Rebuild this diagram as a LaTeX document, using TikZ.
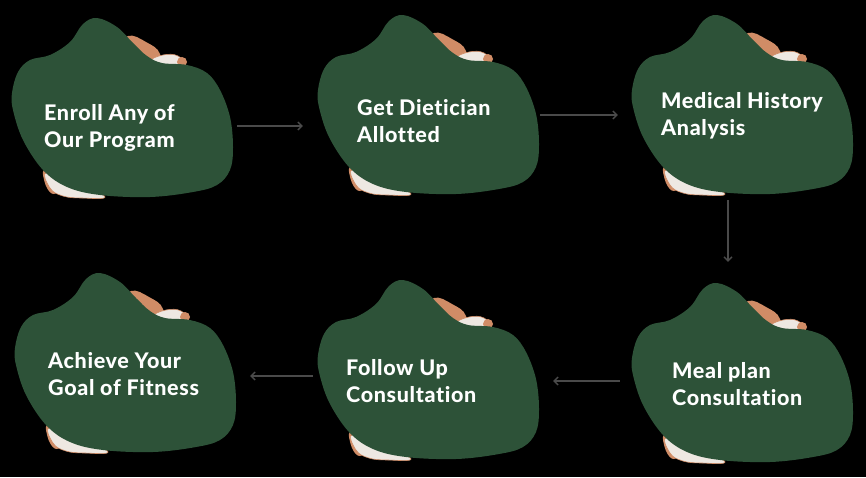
\documentclass[tikz,border=0pt]{standalone}
\usepackage{fontspec}
\setmainfont{Lato}[BoldFont={Lato Heavy},Ligatures=NoCommon,LetterSpace=3]
\usetikzlibrary{arrows.meta}
\definecolor{blobgreen}{HTML}{2D5238}
\definecolor{peach}{HTML}{D08C66}
\definecolor{cream}{HTML}{EEE8E2}
\definecolor{arrowgray}{HTML}{4A4A4A}
\newcommand\drawblob[2]{%
\begin{scope}[shift={(#1,#2)}]
 \fill[peach] plot[smooth cycle,tension=0.7] coordinates {(118,52) (128,36) (146,42) (160,54) (158,75) (130,72)};
 \filldraw[fill=cream,draw=peach,line width=0.6] plot[smooth cycle,tension=0.7] coordinates {(150,62) (163,55) (178,56) (184,66) (165,72)};
 \fill[peach] (182,62) circle[radius=5pt];
 \fill[peach] plot[smooth cycle,tension=0.7] coordinates {(44,170) (46,186) (54,194) (60,184)};
 \filldraw[fill=cream,draw=peach,line width=0.6] plot[smooth cycle,tension=0.7] coordinates {(47,172) (50,188) (63,196) (82,198) (105,197) (80,184)};
 \fill[blobgreen] plot[smooth cycle,tension=0.6] coordinates {
   (97,18) (117,27) (133,43) (147,56) (162,63) (187,65) (207,73) (220,90)
   (230,117) (233,147) (230,170) (217,185) (193,192) (150,197) (100,195)
   (67,187) (43,170) (23,140) (13,110) (12,93) (18,72) (30,60) (50,55) (70,42) (83,24)};
\end{scope}}
\tikzset{
  blobbox/.style={minimum width=221pt,minimum height=179pt,inner sep=0pt,draw=none},
  txt/.style={text=white,font=\fontsize{21.5}{27}\selectfont\bfseries,align=left,inner sep=0pt,anchor=base west},
  arr/.style={draw=arrowgray,line width=1.3pt,-{Straight Barb[length=4pt,width=8pt]}}
}
\begin{document}
\begin{tikzpicture}[x=1pt,y=-1pt]
\fill[black] (0,0) rectangle (866,477);
\useasboundingbox (0,0) rectangle (866,477);
\drawblob{0}{0}
\drawblob{306}{-3}
\drawblob{620}{-3}
\drawblob{3}{255}
\drawblob{306}{262}
\drawblob{620}{265}
\node[blobbox] (b1) at (122.5,107.5) {};
\node[blobbox] (b2) at (428.5,104.5) {};
\node[blobbox] (b3) at (742.5,104.5) {};
\node[blobbox] (b4) at (125.5,362.5) {};
\node[blobbox] (b5) at (428.5,369.5) {};
\node[blobbox] (b6) at (742.5,372.5) {};
\node[txt] (t1) at (44,147) {Enroll Any of\\Our Program};
\node[txt] (t2) at (357,142) {Get Dietician\\Allotted};
\node[txt] (t3) at (661,135) {Medical History\\Analysis};
\node[txt] (t4) at (48,395) {Achieve Your\\Goal of Fitness};
\node[txt] (t5) at (346,402) {Follow Up\\Consultation};
\node[txt] (t6) at (672,405) {Meal plan\\Consultation};
\draw[arr] ([xshift=4pt,yshift=-18.5pt]b1.east) -- ([xshift=-15pt,yshift=-21.5pt]b2.west);
\draw[arr] ([xshift=1pt,yshift=-10.5pt]b2.east) -- ([xshift=-14pt,yshift=-10.5pt]b3.west);
\draw[arr] ([xshift=-14.5pt,yshift=-6pt]b3.south) -- ([xshift=-14.5pt,yshift=21pt]b6.north);
\draw[arr] ([xshift=-12pt,yshift=-8.5pt]b6.west) -- ([xshift=14pt,yshift=-11.5pt]b5.east);
\draw[arr] ([xshift=-5pt,yshift=-6.5pt]b5.west) -- ([xshift=14pt,yshift=-13.5pt]b4.east);
\end{tikzpicture}
\end{document}
